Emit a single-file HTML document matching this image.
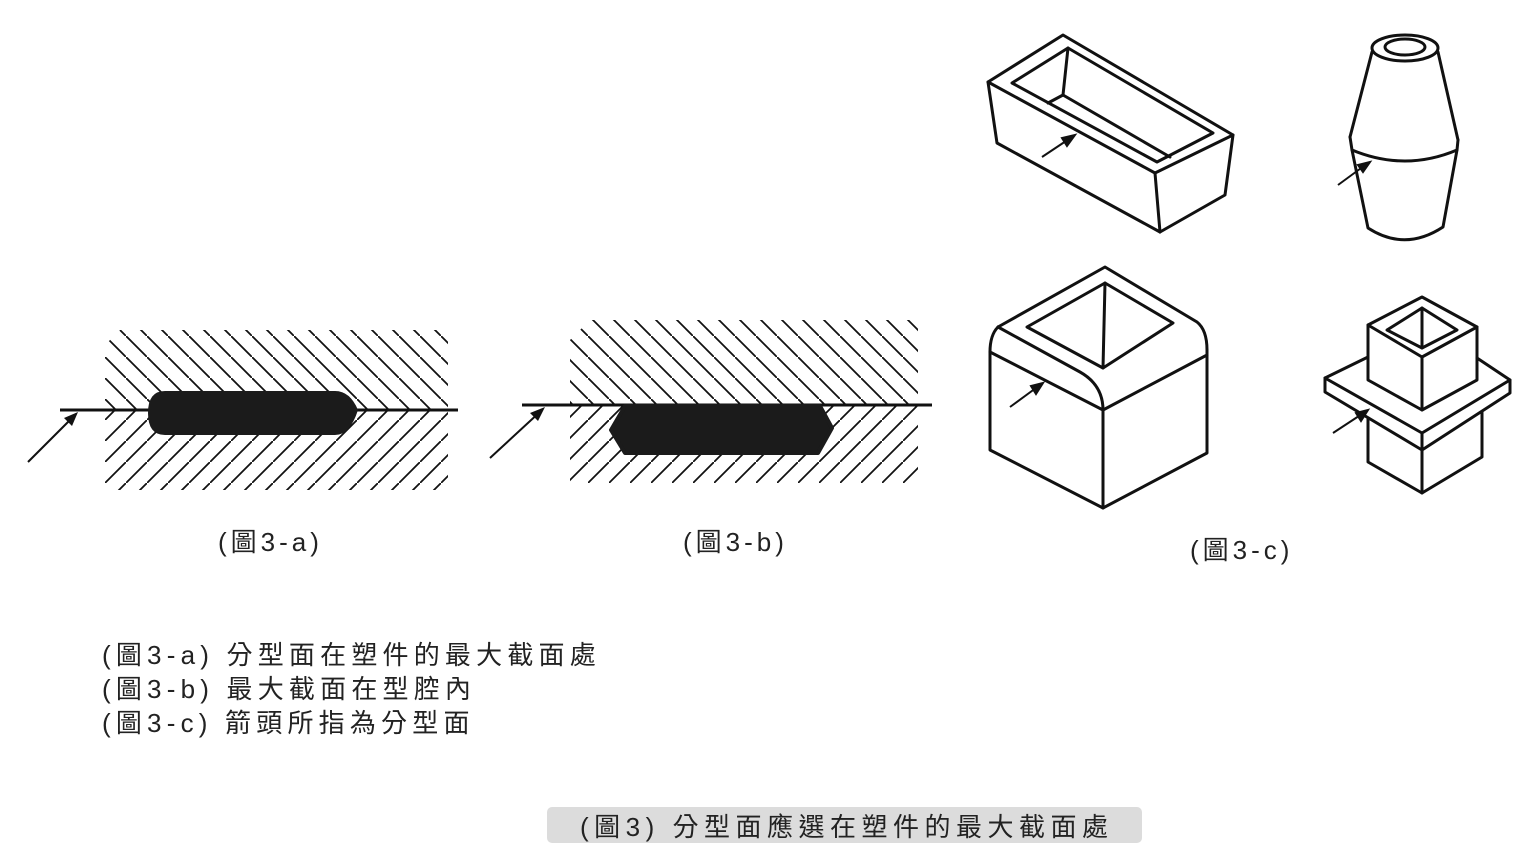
<!DOCTYPE html>
<html><head><meta charset="utf-8"><style>
html,body{margin:0;padding:0;background:#fff;}
svg{display:block;}
text{font-family:"Liberation Sans","Noto Sans CJK TC",sans-serif;fill:#222;}
</style></head><body>
<svg width="1536" height="864" viewBox="0 0 1536 864" xmlns="http://www.w3.org/2000/svg">
<defs>
<pattern id="hd" patternUnits="userSpaceOnUse" width="21" height="21">
<line x1="-2" y1="-2" x2="23" y2="23" stroke="#111" stroke-width="1.8"/>
</pattern>
<pattern id="hu" patternUnits="userSpaceOnUse" width="21" height="21">
<line x1="-2" y1="23" x2="23" y2="-2" stroke="#111" stroke-width="1.8"/>
</pattern>
</defs>

<!-- 3-a -->
<polygon points="120,330 448,330 448,410 105,410 105,345" fill="url(#hd)"/>
<rect x="105" y="410" width="343" height="80" fill="url(#hu)"/>
<line x1="60" y1="410" x2="458" y2="410" stroke="#111" stroke-width="3"/>
<path d="M165,391 L335,391 Q350,391 358,410 Q350,435 335,435 L165,435 Q148,435 148,413 Q148,391 165,391Z" fill="#1b1b1b"/>
<line x1="28" y1="462" x2="76" y2="414" stroke="#111" stroke-width="2"/>
<path d="M78,412 L64,418 L72,426Z" fill="#111"/>

<!-- 3-b -->
<polygon points="590,320 918,320 918,405 570,405 570,340" fill="url(#hd)"/>
<rect x="570" y="405" width="348" height="78" fill="url(#hu)"/>
<line x1="522" y1="405" x2="932" y2="405" stroke="#111" stroke-width="3"/>
<path d="M625,406 L820,406 L832,428 L818,453 L625,453 L611,430Z" fill="#1b1b1b" stroke="#1b1b1b" stroke-width="4" stroke-linejoin="round"/>
<line x1="490" y1="458" x2="542" y2="410" stroke="#111" stroke-width="2"/>
<path d="M545,407 L530,413 L538,421Z" fill="#111"/>

<g fill="none" stroke="#111" stroke-width="3" stroke-linejoin="round" stroke-linecap="round">
<!-- tray -->
<path d="M988,82 L1063,35 L1233,135 L1155,173 Z"/>
<path d="M988,82 L997,143 L1160,232 L1155,173"/>
<path d="M1233,135 L1225,195 L1160,232"/>
<path d="M1012,83 L1068,48 L1213,133 L1157,162 Z"/>
<path d="M1068,48 L1063,95 L1048,103"/>
<path d="M1063,95 L1170,157"/>
<!-- cylinder -->
<ellipse cx="1405" cy="48" rx="33" ry="13"/>
<ellipse cx="1405" cy="47" rx="20" ry="8"/>
<path d="M1372,52 L1350,137"/>
<path d="M1438,52 L1458,140"/>
<path d="M1350,137 L1352,150 Q1405,172 1457,150 L1458,140"/>
<path d="M1352,150 L1368,228 Q1405,252 1443,227 L1457,150"/>
<!-- open cube -->
<path d="M998,327 L1105,267 L1197,322 Q1207,330 1207,350"/>
<path d="M998,327 L1080,372 Q1103,385 1103,410"/>
<path d="M998,327 Q990,335 990,352"/>
<path d="M1027,327 L1105,283 L1173,323 L1103,368 Z"/>
<path d="M1105,283 L1103,368"/>
<path d="M990,352 L1103,410 L1207,355"/>
<path d="M990,352 L990,450 L1103,508 L1207,453 L1207,350"/>
<path d="M1103,410 L1103,508"/>
<!-- flange box -->
<path d="M1368,325 L1422,297 L1477,327 L1422,357 Z"/>
<path d="M1387,330 L1422,308 L1457,330 L1422,348 Z"/>
<path d="M1422,308 L1422,348"/>
<path d="M1368,325 L1368,380 L1422,410 L1477,380 L1477,327"/>
<path d="M1422,357 L1422,410"/>
<path d="M1368,357 L1325,378 L1422,433 L1510,380 L1477,358"/>
<path d="M1325,378 L1325,392 L1422,450 L1510,393 L1510,380"/>
<path d="M1422,433 L1422,450"/>
<path d="M1368,418 L1368,462 L1422,493 L1482,457 L1482,412"/>
<path d="M1422,450 L1422,493"/>
</g>
<!-- small arrows 3-c -->
<g stroke="#111" stroke-width="2" fill="#111">
<line x1="1042" y1="157" x2="1072" y2="137"/><path d="M1075,135 L1062,138 L1067,146Z"/>
<line x1="1338" y1="185" x2="1368" y2="163"/><path d="M1370,162 L1358,165 L1363,172Z"/>
<line x1="1010" y1="407" x2="1040" y2="385"/><path d="M1043,383 L1031,386 L1036,394Z"/>
<line x1="1333" y1="433" x2="1365" y2="412"/><path d="M1368,410 L1356,413 L1361,421Z"/>
</g>

<!-- labels -->
<text x="218" y="551" font-size="26" letter-spacing="4">(圖3-a)</text>
<text x="683" y="551" font-size="26" letter-spacing="4">(圖3-b)</text>
<text x="1190" y="559" font-size="26" letter-spacing="4">(圖3-c)</text>

<text x="102" y="664" font-size="26" letter-spacing="5.2">(圖3-a) 分型面在塑件的最大截面處</text>
<text x="102" y="698" font-size="26" letter-spacing="5.2">(圖3-b) 最大截面在型腔內</text>
<text x="102" y="732" font-size="26" letter-spacing="5.2">(圖3-c) 箭頭所指為分型面</text>

<rect x="547" y="807" width="595" height="36" rx="5" fill="#dcdcdc"/>
<text x="580" y="836" font-size="26" letter-spacing="5.5">(圖3) 分型面應選在塑件的最大截面處</text>
</svg>
</body></html>
